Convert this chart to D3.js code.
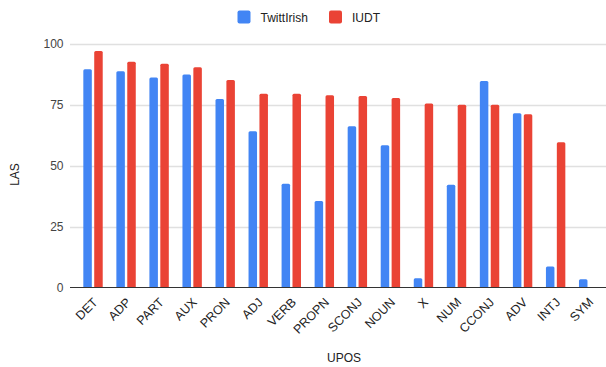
<!DOCTYPE html>
<html><head><meta charset="utf-8">
<script src="https://cdn.jsdelivr.net/npm/d3@7"></script>
<style>html,body{margin:0;padding:0;background:#fff;}svg{display:block;font-family:"Liberation Sans",Arial,sans-serif;}</style>
</head><body><svg id="c" width="606" height="367"></svg>
<script>
const categories = ["DET","ADP","PART","AUX","PRON","ADJ","VERB","PROPN","SCONJ","NOUN","X","NUM","CCONJ","ADV","INTJ","SYM"];
const twittIrish = [89.6,88.8,86.2,87.5,77.4,64.2,42.6,35.5,66.2,58.4,3.8,42.2,84.8,71.6,8.6,3.4];
const iudt =       [97.1,92.7,91.9,90.5,85.2,79.6,79.6,79.0,78.6,77.8,75.6,75.1,75.1,71.1,59.6,null];
const yTicks = [0,25,50,75,100];
const seriesNames = ["TwittIrish","IUDT"];
const colors = ["#4285f4","#ea4335"];

const svg = d3.select("#c");
const y = d3.scaleLinear().domain([0,100]).range([287.5,44]);
const x = d3.scaleBand().domain(categories).range([76.5,605.2]).padding(0);
const gridX0 = 70, gridX1 = 606;

// gridlines
svg.append("g").selectAll("line").data(yTicks.filter(d=>d>0)).join("line")
  .attr("x1",gridX0).attr("x2",gridX1)
  .attr("y1",d=>Math.round(y(d))+0.5).attr("y2",d=>Math.round(y(d))+0.5)
  .attr("stroke","#e0e0e0").attr("stroke-width",1.5);

// y tick labels
svg.append("g").selectAll("text").data(yTicks).join("text")
  .attr("x",63.5).attr("y",d=>y(d)).attr("dy","0.35em")
  .attr("text-anchor","end").attr("font-size",12).attr("fill","#444")
  .text(d=>d);

const bw = 8.5, gap = 2.4;
function barPath(x0,w,yTop,yBot){
  const r = Math.min(1.5, (yBot-yTop));
  return `M${x0},${yBot}V${yTop+r}Q${x0},${yTop} ${x0+r},${yTop}H${x0+w-r}Q${x0+w},${yTop} ${x0+w},${yTop+r}V${yBot}Z`;
}
const data = categories.map((c,i)=>({c, v:[twittIrish[i], iudt[i]]}));
const g = svg.append("g");
data.forEach(d=>{
  const cx = x(d.c) + x.bandwidth()/2;
  d.v.forEach((v,k)=>{
    if(v==null) return;
    const x0 = k===0 ? cx - gap/2 - bw : cx + gap/2;
    g.append("path").attr("d",barPath(x0,bw,y(v),y(0))).attr("fill",colors[k]);
  });
});

// baseline
svg.append("line").attr("x1",gridX0).attr("x2",gridX1)
  .attr("y1",287.5).attr("y2",287.5).attr("stroke","#333").attr("stroke-width",1.2);

// x labels
svg.append("g").selectAll("text").data(categories).join("text")
  .attr("transform",d=>`translate(${x(d)+x.bandwidth()/2+5.5},${303}) rotate(-45)`)
  .attr("text-anchor","end").attr("font-size",12.5).attr("fill","#222")
  .text(d=>d);

// axis titles
svg.append("text").attr("x",344).attr("y",361.5).attr("text-anchor","middle")
  .attr("font-size",12).attr("fill","#222").text("UPOS");
svg.append("text").attr("transform","translate(18.5,174.5) rotate(-90)")
  .attr("text-anchor","middle").attr("font-size",12).attr("fill","#222").text("LAS");

// legend
const leg = svg.append("g");
const legItems = [{n:seriesNames[0],c:colors[0],x:237.5},{n:seriesNames[1],c:colors[1],x:329}];
legItems.forEach(it=>{
  leg.append("rect").attr("x",it.x).attr("y",10.5).attr("width",13).attr("height",13).attr("rx",2).attr("fill",it.c);
  leg.append("text").attr("x",it.x+23).attr("y",21.5).attr("font-size",12).attr("fill","#222").text(it.n);
});
</script></body></html>
